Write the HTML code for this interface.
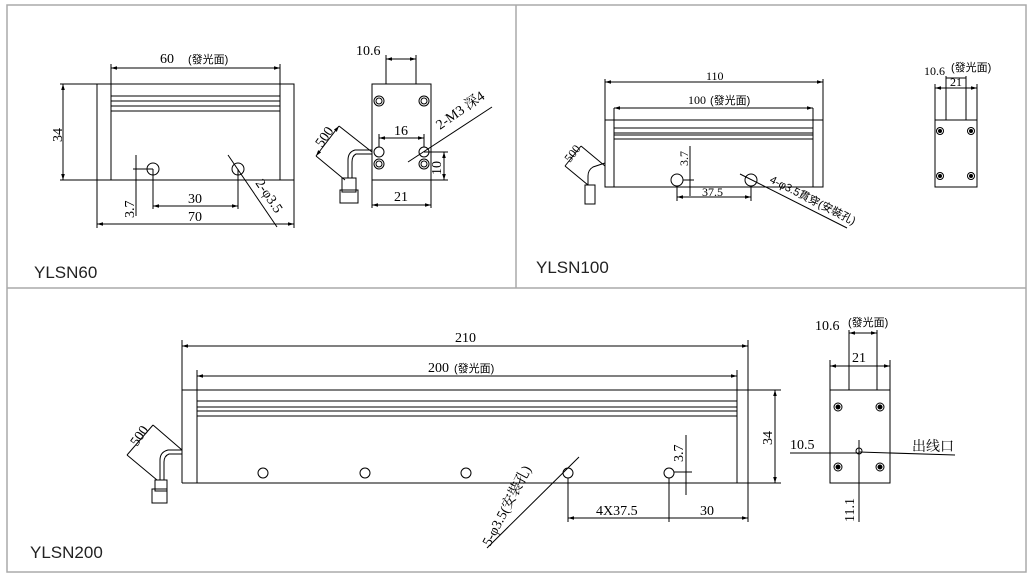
<!DOCTYPE html>
<html><head><meta charset="utf-8"><style>
html,body{margin:0;padding:0;background:#fff}
svg{display:block}
text{font-family:"Liberation Serif","Noto Serif CJK SC",serif;font-size:14px;fill:#000}
.c{font-family:"Liberation Sans","Noto Sans CJK TC",sans-serif;font-size:11px}
.s{font-family:"Liberation Serif","Noto Serif CJK SC",serif;font-size:12px}
.lbl{font-family:"Liberation Sans",sans-serif;font-size:17px;fill:#222}
</style></head><body>
<svg width="1033" height="580" viewBox="0 0 1033 580" xmlns="http://www.w3.org/2000/svg">
<defs>
<marker id="a" viewBox="0 0 10 10" refX="10" refY="5" markerWidth="6" markerHeight="6" orient="auto-start-reverse"><path d="M0,2 L10,5 L0,8z" fill="#000"/></marker>
</defs>
<g fill="none" stroke="#aaa" stroke-width="1.5">
<rect x="7" y="5" width="1019" height="567"/>
<line x1="516" y1="5" x2="516" y2="288"/>
<line x1="7" y1="288" x2="1026" y2="288"/>
</g>
<g fill="none" stroke="#000" stroke-width="1">
<rect x="97" y="84" width="197" height="96"/>
<line x1="111" y1="84" x2="111" y2="180"/><line x1="280" y1="84" x2="280" y2="180"/>
<line x1="111" y1="96" x2="280" y2="96"/><line x1="111" y1="101" x2="280" y2="101"/>
<line x1="111" y1="106" x2="280" y2="106"/><line x1="111" y1="111" x2="280" y2="111"/>
<line x1="111" y1="64" x2="111" y2="84"/><line x1="280" y1="64" x2="280" y2="84"/>
<line x1="111" y1="68" x2="280" y2="68" marker-start="url(#a)" marker-end="url(#a)"/>
<line x1="60" y1="84" x2="97" y2="84"/><line x1="60" y1="180" x2="97" y2="180"/>
<line x1="63" y1="84" x2="63" y2="180" marker-start="url(#a)" marker-end="url(#a)"/>
<circle cx="153" cy="169" r="6"/><circle cx="238" cy="169" r="6"/>
<line x1="136" y1="155" x2="136" y2="216"/><line x1="133" y1="169" x2="153" y2="169"/>
<line x1="153" y1="169" x2="153" y2="209"/><line x1="238" y1="169" x2="238" y2="209"/>
<line x1="153" y1="206" x2="238" y2="206" marker-start="url(#a)" marker-end="url(#a)"/>
<line x1="97" y1="180" x2="97" y2="228"/><line x1="294" y1="180" x2="294" y2="228"/>
<line x1="97" y1="224" x2="294" y2="224" marker-start="url(#a)" marker-end="url(#a)"/>
<line x1="228" y1="155" x2="277" y2="227"/>
<rect x="372" y="84" width="59" height="96"/>
<line x1="386" y1="55" x2="386" y2="84"/><line x1="416" y1="55" x2="416" y2="84"/>
<line x1="386" y1="59" x2="416" y2="59" marker-start="url(#a)" marker-end="url(#a)"/>
<circle cx="379" cy="101" r="5"/><circle cx="379" cy="101" r="3"/>
<circle cx="424" cy="101" r="5"/><circle cx="424" cy="101" r="3"/>
<circle cx="379" cy="164" r="5"/><circle cx="379" cy="164" r="3"/>
<circle cx="424" cy="164" r="5"/><circle cx="424" cy="164" r="3"/>
<circle cx="379" cy="152" r="5"/><circle cx="424" cy="152" r="5"/>
<line x1="379" y1="134" x2="379" y2="147"/><line x1="424" y1="134" x2="424" y2="147"/>
<line x1="379" y1="138" x2="424" y2="138" marker-start="url(#a)" marker-end="url(#a)"/>
<line x1="424" y1="152" x2="448" y2="152"/><line x1="431" y1="180" x2="448" y2="180"/>
<line x1="444" y1="152" x2="444" y2="180" marker-start="url(#a)" marker-end="url(#a)"/>
<line x1="372" y1="180" x2="372" y2="208"/><line x1="431" y1="180" x2="431" y2="208"/>
<line x1="372" y1="205" x2="431" y2="205" marker-start="url(#a)" marker-end="url(#a)"/>
<line x1="408" y1="162" x2="492" y2="107"/>
<path d="M372,150 L355,150 Q348,152 348,160 L348,178"/><path d="M372,154 L356,154 Q352,156 352,162 L352,178"/>
<rect x="342" y="178" width="14" height="14"/><rect x="340" y="190" width="18" height="13"/>
<line x1="339" y1="126" x2="372" y2="152"/><line x1="316" y1="156" x2="345" y2="180"/>
<line x1="339" y1="126" x2="316" y2="156" marker-start="url(#a)" marker-end="url(#a)"/>
<rect x="605" y="120" width="218" height="67"/>
<line x1="614" y1="108" x2="614" y2="187"/><line x1="813" y1="108" x2="813" y2="187"/>
<line x1="614" y1="128" x2="813" y2="128"/><line x1="614" y1="133" x2="813" y2="133"/>
<line x1="614" y1="135" x2="813" y2="135"/><line x1="614" y1="139" x2="813" y2="139"/>
<line x1="605" y1="79" x2="605" y2="120"/><line x1="823" y1="79" x2="823" y2="120"/>
<line x1="605" y1="82" x2="823" y2="82" marker-start="url(#a)" marker-end="url(#a)"/>
<line x1="614" y1="108" x2="813" y2="108" marker-start="url(#a)" marker-end="url(#a)"/>
<circle cx="677" cy="180" r="6"/><circle cx="751" cy="180" r="6"/>
<line x1="690" y1="146" x2="690" y2="196"/><line x1="683" y1="180" x2="694" y2="180"/>
<line x1="677" y1="186" x2="677" y2="201"/><line x1="751" y1="186" x2="751" y2="201"/>
<line x1="677" y1="197" x2="751" y2="197" marker-start="url(#a)" marker-end="url(#a)"/>
<line x1="740" y1="174" x2="847" y2="228"/>
<path d="M605,163 L593,167 Q588,170 588,176 L588,185"/>
<rect x="585" y="185" width="10" height="19"/>
<line x1="581" y1="146" x2="605" y2="166"/><line x1="565" y1="166" x2="588" y2="185"/>
<line x1="581" y1="146" x2="565" y2="166"/>
<rect x="935" y="120" width="42" height="67"/>
<line x1="946" y1="76" x2="946" y2="120"/><line x1="966" y1="76" x2="966" y2="120"/>
<line x1="935" y1="84" x2="935" y2="120"/><line x1="977" y1="84" x2="977" y2="120"/>
<line x1="935" y1="88" x2="977" y2="88" marker-start="url(#a)" marker-end="url(#a)"/>
<line x1="946" y1="78" x2="966" y2="78"/>
<circle cx="940" cy="131" r="3.5"/><circle cx="940" cy="131" r="1.5" fill="#000"/>
<circle cx="971" cy="131" r="3.5"/><circle cx="971" cy="131" r="1.5" fill="#000"/>
<circle cx="940" cy="176" r="3.5"/><circle cx="940" cy="176" r="1.5" fill="#000"/>
<circle cx="971" cy="176" r="3.5"/><circle cx="971" cy="176" r="1.5" fill="#000"/>
<line x1="182" y1="390" x2="781" y2="390"/><line x1="182" y1="483" x2="781" y2="483"/>
<line x1="182" y1="390" x2="182" y2="483"/><line x1="748" y1="340" x2="748" y2="522"/>
<line x1="197" y1="370" x2="197" y2="483"/><line x1="737" y1="370" x2="737" y2="483"/>
<line x1="197" y1="401" x2="737" y2="401"/><line x1="197" y1="407" x2="737" y2="407"/>
<line x1="197" y1="411" x2="737" y2="411"/><line x1="197" y1="416" x2="737" y2="416"/>
<line x1="182" y1="340" x2="182" y2="390"/>
<line x1="182" y1="346" x2="748" y2="346" marker-start="url(#a)" marker-end="url(#a)"/>
<line x1="197" y1="376" x2="737" y2="376" marker-start="url(#a)" marker-end="url(#a)"/>
<line x1="775" y1="390" x2="775" y2="483" marker-start="url(#a)" marker-end="url(#a)"/>
<circle cx="263" cy="473" r="5"/><circle cx="365" cy="473" r="5"/><circle cx="466" cy="473" r="5"/>
<circle cx="568" cy="473" r="5"/><circle cx="669" cy="473" r="5"/>
<line x1="686" y1="435" x2="686" y2="495"/><line x1="674" y1="472" x2="692" y2="472"/>
<line x1="568" y1="478" x2="568" y2="522"/><line x1="669" y1="478" x2="669" y2="522"/>
<line x1="568" y1="518" x2="748" y2="518" marker-start="url(#a)" marker-end="url(#a)"/>
<line x1="579" y1="457" x2="487" y2="548"/>
<path d="M182,450 L168,450 Q160,452 160,460 L160,480"/><path d="M182,454 L169,454 Q164,456 164,462 L164,480"/>
<rect x="155" y="480" width="12" height="11"/><rect x="152" y="489" width="15" height="14"/>
<line x1="153" y1="425" x2="182" y2="450"/><line x1="127" y1="455" x2="157" y2="480"/>
<line x1="153" y1="425" x2="127" y2="455"/>
<rect x="830" y="390" width="60" height="93"/>
<line x1="849" y1="330" x2="849" y2="390"/><line x1="877" y1="330" x2="877" y2="390"/>
<line x1="849" y1="333" x2="877" y2="333" marker-start="url(#a)" marker-end="url(#a)"/>
<line x1="830" y1="360" x2="830" y2="390"/><line x1="890" y1="360" x2="890" y2="390"/>
<line x1="830" y1="366" x2="890" y2="366" marker-start="url(#a)" marker-end="url(#a)"/>
<circle cx="838" cy="407" r="4"/><circle cx="838" cy="407" r="2" fill="#000"/>
<circle cx="880" cy="407" r="4"/><circle cx="880" cy="407" r="2" fill="#000"/>
<circle cx="838" cy="467" r="4"/><circle cx="838" cy="467" r="2" fill="#000"/>
<circle cx="880" cy="467" r="4"/><circle cx="880" cy="467" r="2" fill="#000"/>
<circle cx="859" cy="451" r="3"/>
<line x1="790" y1="453" x2="859" y2="453"/><line x1="859" y1="452" x2="955" y2="455"/>
<line x1="859" y1="440" x2="859" y2="522"/>
</g>
<text x="160" y="63">60</text><text class="c" x="188" y="63">(發光面)</text>
<text transform="translate(62,142) rotate(-90)">34</text>
<text transform="translate(134,218) rotate(-90)">3.7</text>
<text x="188" y="203">30</text><text x="188" y="221">70</text>
<text transform="translate(255,183) rotate(56)">2-φ3.5</text>
<text x="356" y="55">10.6</text><text x="394" y="135">16</text>
<text transform="translate(441,175) rotate(-90)">10</text>
<text x="394" y="201">21</text>
<text transform="translate(440,130) rotate(-35)">2-M3 深4</text>
<text transform="translate(322,148) rotate(-55)">500</text>
<text class="lbl" x="34" y="278">YLSN60</text>
<text class="s" x="706" y="80">110</text>
<text class="s" x="688" y="104">100</text><text class="c" x="710" y="104">(發光面)</text>
<text class="s" transform="translate(688,166) rotate(-90)">3.7</text>
<text class="s" x="702" y="196">37.5</text>
<text class="c" transform="translate(769,182) rotate(27)">4-φ3.5貫穿(安裝孔)</text>
<text class="s" transform="translate(570,163) rotate(-52)">500</text>
<text class="s" x="924" y="75">10.6</text><text class="c" x="951" y="71">(發光面)</text>
<text class="s" x="950" y="86">21</text>
<text class="lbl" x="536" y="273">YLSN100</text>
<text x="455" y="342">210</text>
<text x="428" y="372">200</text><text class="c" x="454" y="372">(發光面)</text>
<text transform="translate(772,445) rotate(-90)">34</text>
<text transform="translate(683,462) rotate(-90)">3.7</text>
<text x="596" y="515">4X37.5</text><text x="700" y="515">30</text>
<text transform="translate(490,547) rotate(-62)">5-φ3.5(安裝孔)</text>
<text transform="translate(137,447) rotate(-55)">500</text>
<text x="815" y="330">10.6</text><text class="c" x="848" y="326">(發光面)</text>
<text x="852" y="362">21</text>
<text x="790" y="449">10.5</text>
<text x="912" y="451">出线口</text>
<text transform="translate(854,522) rotate(-90)">11.1</text>
<text class="lbl" x="30" y="558">YLSN200</text>
</svg>
</body></html>
